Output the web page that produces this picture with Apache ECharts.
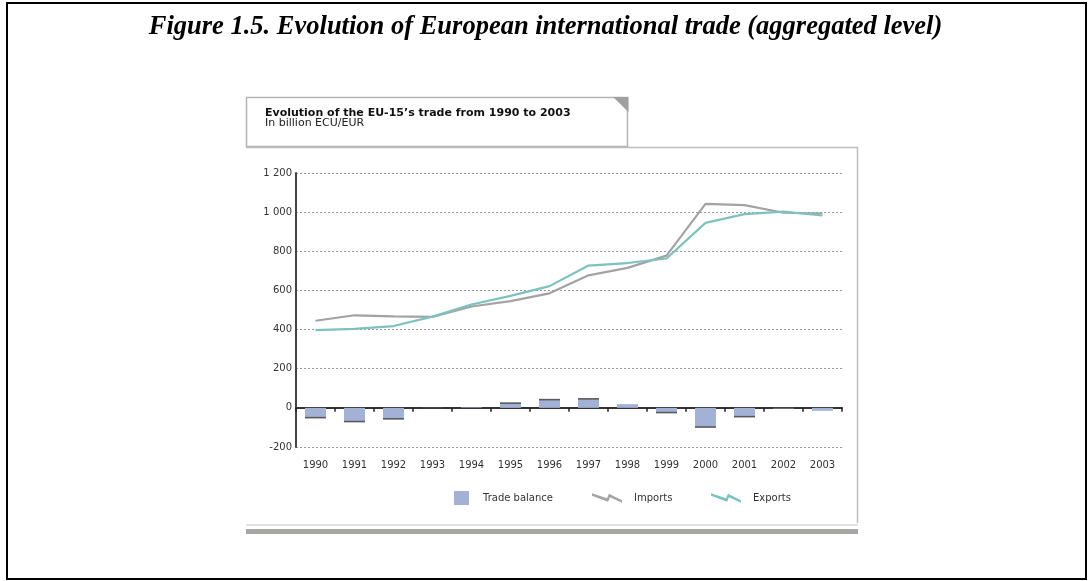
<!DOCTYPE html>
<html>
<head>
<meta charset="utf-8">
<script src="https://cdn.jsdelivr.net/npm/echarts@6/dist/echarts.min.js"></script>
<style>html,body{margin:0;padding:0;background:#fff;}#c{width:1091px;height:581px;}</style>
</head>
<body>
<div id="c"></div>
<script>
const years = ['1990','1991','1992','1993','1994','1995','1996','1997','1998','1999','2000','2001','2002','2003'];
const imports = [445, 473, 467, 465, 518, 545, 585, 677, 715, 778, 1042, 1036, 997, 993];
const exports = [397, 404, 418, 466, 528, 572, 622, 727, 740, 763, 945, 990, 1003, 983];
const tradeBalance = [-50, -70, -56, -1, 3, 24, 42, 46, 19, -24, -98, -45, -3, -15];
const yTicks = [-200, 1200, 200];

const chart = echarts.init(document.getElementById('c'), null, {renderer: 'canvas'});
const font = 'DejaVu Sans';
const zig = 'path://M0,0 L15,5 L17,0.5 L30,7 L30,9.5 L18,4 L16,8.5 L0,2.5 Z';
const barColor = '#a3b1d6';

function renderBar(params, api) {
  const idx = api.value(0);
  const v = api.value(1);
  const p0 = api.coord([idx, 0]);
  const p1 = api.coord([idx, v]);
  const w = api.size([1, 0])[0] * 0.54;
  const x = p0[0] - w / 2;
  const y = Math.min(p0[1], p1[1]);
  const h = Math.abs(p1[1] - p0[1]);
  const children = [{
    type: 'rect', shape: {x: x, y: y, width: w, height: h},
    style: {fill: barColor}
  }];
  if (Math.abs(v) >= 20) {
    children.push({
      type: 'line', shape: {x1: x, y1: p1[1], x2: x + w, y2: p1[1]},
      style: {stroke: '#5a5a5a', lineWidth: 1.6}
    });
  }
  return {type: 'group', children: children};
}

chart.setOption({
  animation: false,
  backgroundColor: '#fff',
  title: [
    {
      text: 'Figure 1.5. Evolution of European international trade (aggregated level)',
      left: 'center', top: 9,
      textStyle: {fontFamily: 'Liberation Serif', fontStyle: 'italic', fontWeight: 'bold', fontSize: 26.5, color: '#000'}
    },
    {
      text: 'Evolution of the EU-15’s trade from 1990 to 2003',
      subtext: 'In billion ECU/EUR',
      left: 260, top: 103, itemGap: -1,
      textStyle: {fontFamily: font, fontWeight: 'bold', fontSize: 11, color: '#111'},
      subtextStyle: {fontFamily: font, fontSize: 11, color: '#222'}
    }
  ],
  legend: [
    {
      data: [{name: 'Trade balance', icon: 'rect'}],
      left: 449, top: 486, itemWidth: 15, itemHeight: 14,
      textStyle: {fontFamily: font, fontSize: 10, color: '#333', padding: [0, 0, 0, 9]}
    },
    {
      data: [{name: 'Imports', icon: zig}],
      left: 587, top: 488, itemWidth: 30, itemHeight: 10,
      textStyle: {fontFamily: font, fontSize: 10, color: '#333', padding: [0, 0, 0, 7]}
    },
    {
      data: [{name: 'Exports', icon: zig}],
      left: 706, top: 488, itemWidth: 30, itemHeight: 10,
      textStyle: {fontFamily: font, fontSize: 10, color: '#333', padding: [0, 0, 0, 7]}
    }
  ],
  grid: {left: 296, right: 249, top: 173, bottom: 134, containLabel: false},
  xAxis: [
    {
      type: 'category', data: years, position: 'bottom',
      axisLine: {show: false, onZero: false}, axisTick: {show: false},
      axisLabel: {fontFamily: font, fontSize: 10, color: '#333', margin: 13}
    },
    {
      type: 'category', data: years, position: 'bottom',
      axisLine: {show: true, onZero: true, lineStyle: {color: '#333', width: 2}},
      axisTick: {show: true, length: 4, lineStyle: {color: '#222', width: 1.5}},
      axisLabel: {show: false}
    }
  ],
  yAxis: {
    type: 'value', min: yTicks[0], max: yTicks[1], interval: yTicks[2],
    axisLine: {show: true, lineStyle: {color: '#444', width: 2}},
    axisTick: {show: false},
    axisLabel: {
      fontFamily: font, fontSize: 10, color: '#333', margin: 4,
      formatter: v => String(v).replace(/\B(?=(\d{3})+(?!\d))/g, ' ')
    },
    splitLine: {lineStyle: {color: '#999', type: [2, 2], width: 1}}
  },
  series: [
    {
      name: 'Trade balance', type: 'custom', xAxisIndex: 0,
      data: tradeBalance.map((v, i) => [i, v]),
      encode: {x: 0, y: 1},
      renderItem: renderBar,
      itemStyle: {color: barColor}, z: 3
    },
    {
      name: 'Imports', type: 'line', data: imports, xAxisIndex: 0,
      showSymbol: false, symbol: 'none', lineStyle: {color: '#a3a3a3', width: 2.2},
      itemStyle: {color: '#a3a3a3'}, z: 4
    },
    {
      name: 'Exports', type: 'line', data: exports, xAxisIndex: 0,
      showSymbol: false, symbol: 'none', lineStyle: {color: '#7cc2bf', width: 2.2},
      itemStyle: {color: '#7cc2bf'}, z: 5
    }
  ],
  graphic: [
    {type: 'rect', shape: {x: 7, y: 3, width: 1079, height: 576}, style: {fill: 'none', stroke: '#000', lineWidth: 2}, silent: true, z: -1},
    {type: 'rect', shape: {x: 246.5, y: 97.5, width: 381, height: 49}, style: {fill: 'none', stroke: '#b5b5b5', lineWidth: 1.5}, silent: true},
    {type: 'polygon', shape: {points: [[613, 97], [628.5, 97], [628.5, 112]]}, style: {fill: '#a0a0a0'}, silent: true},
    {type: 'polyline', shape: {points: [[246, 147.5], [857.5, 147.5], [857.5, 523]]}, style: {fill: 'none', stroke: '#bdbdbd', lineWidth: 1.5}, silent: true},
    {type: 'line', shape: {x1: 246, y1: 525, x2: 858, y2: 525}, style: {stroke: '#c4c4c4', lineWidth: 1.2}, silent: true},
    {type: 'rect', shape: {x: 246, y: 529, width: 612, height: 5}, style: {fill: '#a6a8a6'}, silent: true}
  ]
});
</script>
</body>
</html>
